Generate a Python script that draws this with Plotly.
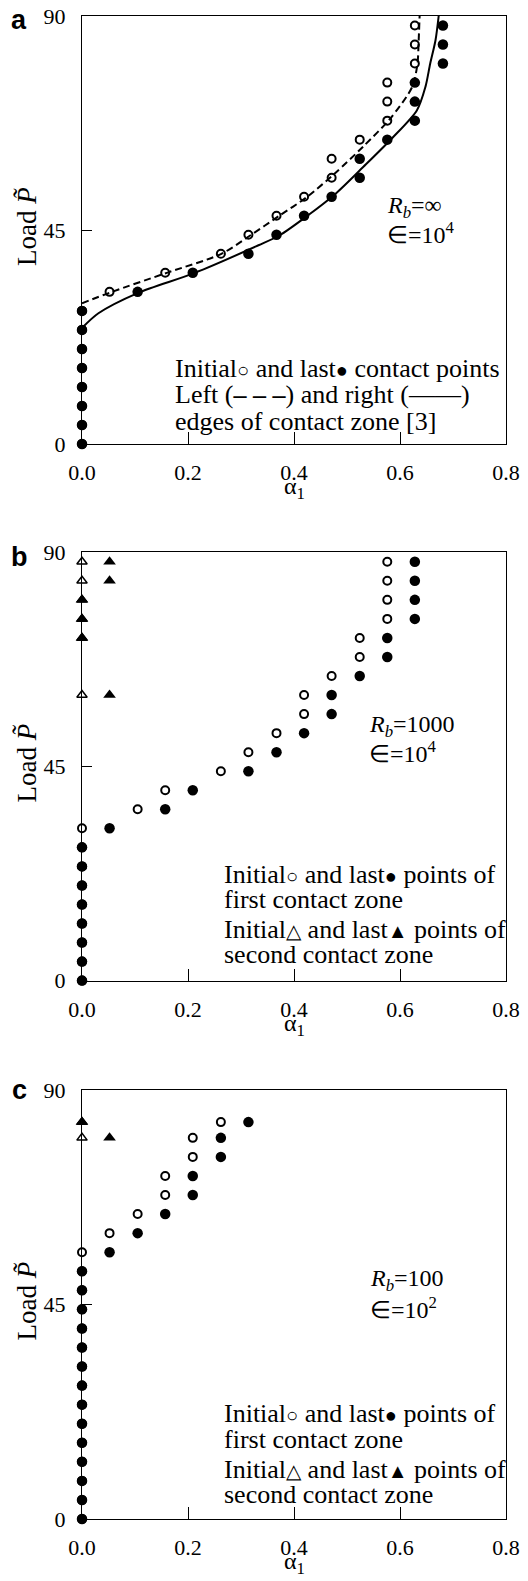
import plotly.graph_objects as go

# ---------------- data ----------------
loads = [0, 4, 8, 12, 16, 20, 24, 28, 32, 36, 40, 44, 48, 52, 56, 60, 64, 68, 72, 76, 80, 84, 88]

# panel a  (R_b = inf, eps = 1e4)
a_initial = [0, 0, 0, 0, 0, 0, 0, 0, 0.052, 0.157, 0.262, 0.314, 0.367, 0.419, 0.471, 0.471,
             0.524, 0.576, 0.576, 0.576, 0.628, 0.628, 0.628]
a_last = [0, 0, 0, 0, 0, 0, 0, 0, 0.105, 0.209, 0.314, 0.367, 0.419, 0.471, 0.524, 0.524,
          0.576, 0.628, 0.628, 0.628, 0.681, 0.681, 0.681]
left_edge_x = [0, 0.054, 0.160, 0.263, 0.318, 0.371, 0.425, 0.478, 0.531, 0.582, 0.623, 0.633, 0.635, 0.637]
left_edge_y = [29.6, 31.9, 36.0, 40.0, 43.9, 47.9, 52.0, 57.0, 62.6, 68.5, 75.1, 80.0, 84.2, 90.0]
right_edge_x = [0, 0.031, 0.106, 0.213, 0.333, 0.373, 0.424, 0.478, 0.531, 0.585, 0.632, 0.648, 0.657, 0.667, 0.673]
right_edge_y = [24.4, 27.5, 31.8, 36.0, 41.8, 43.9, 47.9, 52.6, 58.3, 64.3, 70.2, 75.1, 80.0, 84.9, 90.0]

# panel b  (R_b = 1000, eps = 1e4)
b_initial = [0, 0, 0, 0, 0, 0, 0, 0, 0, 0.105, 0.157, 0.262, 0.314, 0.367, 0.419, 0.419,
             0.471, 0.524, 0.524, 0.576, 0.576, 0.576, 0.576]
b_last = [0, 0, 0, 0, 0, 0, 0, 0, 0.052, 0.157, 0.209, 0.314, 0.367, 0.419, 0.471, 0.471,
          0.524, 0.576, 0.576, 0.628, 0.628, 0.628, 0.628]
b_second_loads = [88, 84, 80, 76, 72, 60]
b_second_initial = [0, 0, 0, 0, 0, 0]
b_second_last = [0.052, 0.052, 0, 0, 0, 0.052]

# panel c  (R_b = 100, eps = 1e2)
c_loads = [0, 4, 8, 12, 16, 20, 24, 28, 32, 36, 40, 44, 48, 52, 56, 60, 64, 68, 72, 76, 80, 83.3]
c_initial = [0, 0, 0, 0, 0, 0, 0, 0, 0, 0, 0, 0, 0, 0, 0, 0.052, 0.105, 0.157, 0.157, 0.209, 0.209, 0.262]
c_last = [0, 0, 0, 0, 0, 0, 0, 0, 0, 0, 0, 0, 0, 0, 0.052, 0.105, 0.157, 0.209, 0.209, 0.262, 0.262, 0.314]
c_second_loads = [83.3, 80]
c_second_initial = [0, 0]
c_second_last = [0, 0.052]

x_ticks = [0.0, 0.2, 0.4, 0.6, 0.8]
x_ticktext = ["0.0", "0.2", "0.4", "0.6", "0.8"]
y_ticks = [0, 45, 90]

# ---------------- figure ----------------
SERIF = "Liberation Serif"
fig = go.Figure()

def circles(x, y, ax, filled):
    fig.add_trace(go.Scatter(
        x=x, y=y, mode="markers", xaxis="x" + ax, yaxis="y" + ax, cliponaxis=False,
        showlegend=False,
        marker=dict(symbol="circle" if filled else "circle-open", size=10.5 if filled else 8,
                    color="black", line=dict(color="black", width=0 if filled else 2))))

def triangles(x, y, ax, filled):
    fig.add_trace(go.Scatter(
        x=x, y=y, mode="markers", xaxis="x" + ax, yaxis="y" + ax, cliponaxis=False,
        showlegend=False,
        marker=dict(symbol="triangle-up" if filled else "triangle-up-open", size=11 if filled else 9,
                    color="black", line=dict(color="black", width=0 if filled else 1.5))))

# panel a
fig.add_trace(go.Scatter(x=left_edge_x, y=left_edge_y, mode="lines", xaxis="x", yaxis="y",
                         line=dict(color="black", width=2, dash="7px,4px", shape="spline", smoothing=0.8),
                         showlegend=False))
fig.add_trace(go.Scatter(x=right_edge_x, y=right_edge_y, mode="lines", xaxis="x", yaxis="y",
                         line=dict(color="black", width=2, shape="spline", smoothing=0.8),
                         showlegend=False))
circles(a_initial, loads, "", False)
circles(a_last, loads, "", True)

# panel b
triangles(b_second_initial, b_second_loads, "2", False)
triangles(b_second_last, b_second_loads, "2", True)
circles(b_initial, loads, "2", False)
circles(b_last, loads, "2", True)

# panel c
triangles(c_second_initial, c_second_loads, "3", False)
triangles(c_second_last, c_second_loads, "3", True)
circles(c_initial, c_loads, "3", False)
circles(c_last, c_loads, "3", True)

domains = {"": [0.7152, 1.0], "2": [0.3582, 0.6432], "3": [0.0, 0.2853]}

# the page body adds an 8px offset, so the figure is 8px smaller than the window
layout = dict(
    width=520, height=1573,
    margin=dict(l=74, r=22, t=8, b=62, autoexpand=False),
    paper_bgcolor="white", plot_bgcolor="white",
    font=dict(family=SERIF, color="black", size=22),
)
for ax, dom in domains.items():
    anchor_y = "y" + ax
    anchor_x = "x" + ax
    layout["xaxis" + ax] = dict(
        domain=[0, 1], anchor=anchor_y, range=[0, 0.8], tickvals=x_ticks, ticktext=x_ticktext,
        ticks="inside", ticklen=12, tickwidth=1, tickcolor="black",
        showline=True, linecolor="black", linewidth=1, mirror=True,
        showgrid=False, zeroline=False, ticklabelstandoff=9, automargin=False,
        ticklabeloverflow="allow",
        tickfont=dict(family=SERIF, size=22, color="black"),
    )
    layout["yaxis" + ax] = dict(
        domain=dom, anchor=anchor_x, range=[0, 90], tickvals=y_ticks,
        ticks="inside", ticklen=10, tickwidth=1, tickcolor="black",
        showline=True, linecolor="black", linewidth=1, mirror=True,
        showgrid=False, zeroline=False, ticklabelstandoff=11, automargin=False,
        ticklabeloverflow="allow",
        tickfont=dict(family=SERIF, size=22, color="black"),
    )
fig.update_layout(**layout)

def dref(ax):
    return ("x" + ax if ax else "x") + " domain", ("y" + ax if ax else "y") + " domain"

def txt(ax, xd, yd, text, size=26, font=SERIF):
    xr, yr = dref(ax)
    fig.add_annotation(xref=xr, yref=yr, x=xd, y=yd, text=text, showarrow=False,
                       xanchor="left", yanchor="middle", align="left",
                       font=dict(family=font, size=size, color="black"))

sym = lambda s: '<span style="font-size:20px">' + s + '</span>'

for ax in domains:
    xr, yr = dref(ax)
    # axis titles
    fig.add_annotation(xref=xr, yref=yr, x=0.5, y=0, yshift=-44, text="α<sub>1</sub>",
                       showarrow=False, xanchor="center", yanchor="middle",
                       font=dict(family=SERIF, size=24, color="black"))
    fig.add_annotation(xref=xr, yref=yr, x=0, y=0.5, xshift=-55, yshift=3, text="Load <i>P̃</i>",
                       textangle=-90, showarrow=False, xanchor="center", yanchor="middle",
                       font=dict(family=SERIF, size=27, color="black"))

# panel labels
for ax, yd in [("", 0.99), ("2", 0.99), ("3", 1.0)]:
    xr, yr = dref(ax)
    fig.add_annotation(xref=xr, yref=yr, x=-0.148, y=yd,
                       text="<b>" + {"": "a", "2": "b", "3": "c"}[ax] + "</b>",
                       showarrow=False, xanchor="center", yanchor="middle",
                       font=dict(family="Liberation Sans", size=27, color="black"))

# panel a texts
txt("", 0.715, 0.553, "<i>R</i><sub><i>b</i></sub>=∞", size=24)
txt("", 0.715, 0.493, "∈=10<sup>4</sup>", size=24)
txt("", 0.2145, 0.1774, "Initial" + sym("○") + " and last" + sym("●") + " contact points")
txt("", 0.2145, 0.1151, "Left (<b>– – –</b>) and right (——)")
txt("", 0.2145, 0.053, "edges of contact zone [3]")

# panel b texts
txt("2", 0.672, 0.5946, "<i>R</i><sub><i>b</i></sub>=1000", size=24)
txt("2", 0.672, 0.534, "∈=10<sup>4</sup>", size=24)
txt("2", 0.33, 0.2474, "Initial" + sym("○") + " and last" + sym("●") + " points of")
txt("2", 0.33, 0.189, "first contact zone")
txt("2", 0.33, 0.119, "Initial" + sym("△") + " and last" + sym("▲") + " points of")
txt("2", 0.33, 0.0607, "second contact zone")

# panel c texts
txt("3", 0.6755, 0.5575, "<i>R</i><sub><i>b</i></sub>=100", size=24)
txt("3", 0.6755, 0.4915, "∈=10<sup>2</sup>", size=24)
txt("3", 0.33, 0.2466, "Initial" + sym("○") + " and last" + sym("●") + " points of")
txt("3", 0.33, 0.1843, "first contact zone")
txt("3", 0.33, 0.1143, "Initial" + sym("△") + " and last" + sym("▲") + " points of")
txt("3", 0.33, 0.056, "second contact zone")

fig.write_html("out.html")
